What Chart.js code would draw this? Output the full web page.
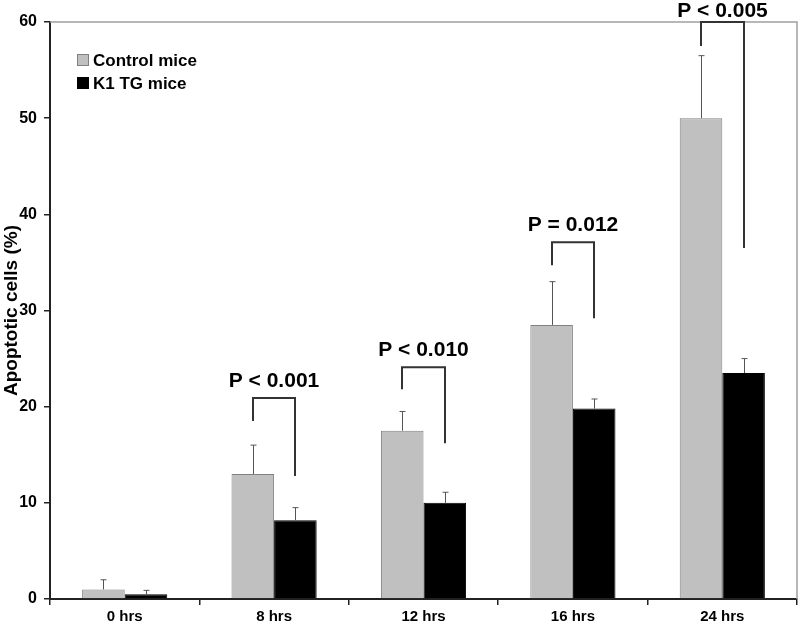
<!DOCTYPE html>
<html>
<head>
<meta charset="utf-8">
<script src="https://cdn.jsdelivr.net/npm/chart.js@4/dist/chart.umd.min.js"></script>
<style>
  html, body { margin: 0; padding: 0; background: #fff; }
  #wrap { width: 800px; height: 628px; }
</style>
</head>
<body>
<div id="wrap"><canvas id="apoptosisChart"></canvas></div>
<script>
// Data
const categories = ['0 hrs', '8 hrs', '12 hrs', '16 hrs', '24 hrs'];
const controlValues = [1.0, 13.0, 17.5, 28.5, 50.0];
const controlErr = [1.0, 3.0, 2.0, 4.5, 6.5];
const tgValues = [0.5, 8.2, 10.0, 19.8, 23.5];
const tgErr = [0.4, 1.3, 1.1, 1.0, 1.5];
const yTicks = [0, 10, 20, 30, 40, 50, 60];

// significance brackets (data units)
const pLabels = [null, 'P < 0.001', 'P < 0.010', 'P = 0.012', 'P < 0.005'];
const bracketTop = [null, 20.9, 24.1, 37.1, 60.0];
const bracketLeftEnd = [null, 18.5, 21.8, 34.7, 57.5];
const bracketRightEnd = [null, 12.8, 16.2, 29.2, 36.5];

const FONT = '"Liberation Sans", Arial, sans-serif';

// error bars, brackets, legend and frame
const extrasPlugin = {
    id: 'extras',
    afterDatasetsDraw(chart) {
        const ctx = chart.ctx;
        const yScale = chart.scales.y;
        const area = chart.chartArea;
        const errs = [controlErr, tgErr];

        // frame lines on top and right
        ctx.save();
        ctx.strokeStyle = '#a0a0a0';
        ctx.lineWidth = 1.5;
        ctx.beginPath();
        ctx.moveTo(area.left, area.top);
        ctx.lineTo(area.right, area.top);
        ctx.lineTo(area.right, area.bottom);
        ctx.stroke();
        ctx.restore();

        // error bars (upper only)
        ctx.save();
        ctx.strokeStyle = '#555';
        ctx.lineWidth = 1;
        chart.data.datasets.forEach((ds, di) => {
            const meta = chart.getDatasetMeta(di);
            meta.data.forEach((bar, i) => {
                const top = yScale.getPixelForValue(ds.data[i] + errs[di][i]);
                const x = Math.round(bar.x) + 0.5;
                ctx.beginPath();
                ctx.moveTo(x, bar.y);
                ctx.lineTo(x, top);
                ctx.moveTo(x - 3, top);
                ctx.lineTo(x + 3, top);
                ctx.stroke();
            });
        });
        ctx.restore();

        // brackets and p-values
        const m0 = chart.getDatasetMeta(0);
        const m1 = chart.getDatasetMeta(1);
        ctx.save();
        ctx.strokeStyle = '#333';
        ctx.lineWidth = 2;
        ctx.fillStyle = '#000';
        ctx.font = 'bold 21px ' + FONT;
        ctx.textAlign = 'center';
        ctx.textBaseline = 'alphabetic';
        pLabels.forEach((label, i) => {
            if (!label) return;
            const xl = Math.round(m0.data[i].x);
            const xr = Math.round(m1.data[i].x);
            const yt = yScale.getPixelForValue(bracketTop[i]);
            ctx.beginPath();
            ctx.moveTo(xl, yScale.getPixelForValue(bracketLeftEnd[i]));
            ctx.lineTo(xl, yt);
            ctx.lineTo(xr, yt);
            ctx.lineTo(xr, yScale.getPixelForValue(bracketRightEnd[i]));
            ctx.stroke();
            ctx.fillText(label, (xl + xr) / 2, Math.max(yt - 11, 17));
        });
        ctx.restore();

        // legend inside plot
        ctx.save();
        ctx.font = 'bold 17px ' + FONT;
        ctx.textBaseline = 'middle';
        ctx.textAlign = 'left';
        chart.data.datasets.forEach((ds, di) => {
            const cy = area.top + 38 + di * 23;
            ctx.fillStyle = ds.backgroundColor;
            ctx.fillRect(area.left + 27, cy - 6, 12, 12);
            ctx.strokeStyle = ds.borderColor;
            ctx.lineWidth = 1;
            ctx.strokeRect(area.left + 27.5, cy - 5.5, 11, 11);
            ctx.fillStyle = '#000';
            ctx.fillText(ds.label, area.left + 43, cy + 1);
        });
        ctx.restore();
    }
};

new Chart(document.getElementById('apoptosisChart'), {
    type: 'bar',
    data: {
        labels: categories,
        datasets: [{
            label: 'Control mice',
            data: controlValues,
            backgroundColor: '#c0c0c0',
            borderColor: '#808080',
            borderWidth: 1
        }, {
            label: 'K1 TG mice',
            data: tgValues,
            backgroundColor: '#000000',
            borderColor: '#000000',
            borderWidth: 1
        }]
    },
    options: {
        responsive: true,
        maintainAspectRatio: false,
        animation: false,
        layout: { padding: { top: 22, right: 3, left: 0, bottom: 0 } },
        categoryPercentage: 0.57,
        barPercentage: 1.0,
        plugins: {
            legend: { display: false },
            tooltip: { enabled: false }
        },
        scales: {
            x: {
                afterFit: function(scale) { scale.height = 29; },
                grid: {
                    offset: true,
                    drawOnChartArea: false,
                    drawTicks: true,
                    tickLength: 6,
                    color: '#222',
                    lineWidth: 1.5
                },
                border: { color: '#222', width: 2 },
                ticks: {
                    color: '#000',
                    padding: 3,
                    font: { family: FONT, size: 15, weight: 'bold' }
                }
            },
            y: {
                min: 0,
                max: 60,
                afterFit: function(scale) { scale.width = 50; },
                afterBuildTicks: function(scale) {
                    scale.ticks = yTicks.map(v => ({ value: v }));
                },
                grid: {
                    drawOnChartArea: false,
                    drawTicks: true,
                    tickLength: 6,
                    color: '#222',
                    lineWidth: 1.5
                },
                border: { color: '#222', width: 2 },
                ticks: {
                    color: '#000',
                    padding: 7,
                    font: { family: FONT, size: 16, weight: 'bold' }
                },
                title: {
                    display: true,
                    text: 'Apoptotic cells (%)',
                    color: '#000',
                    padding: { top: 0, bottom: 0 },
                    font: { family: FONT, size: 19, weight: 'bold' }
                }
            }
        }
    },
    plugins: [extrasPlugin]
});
</script>
</body>
</html>
